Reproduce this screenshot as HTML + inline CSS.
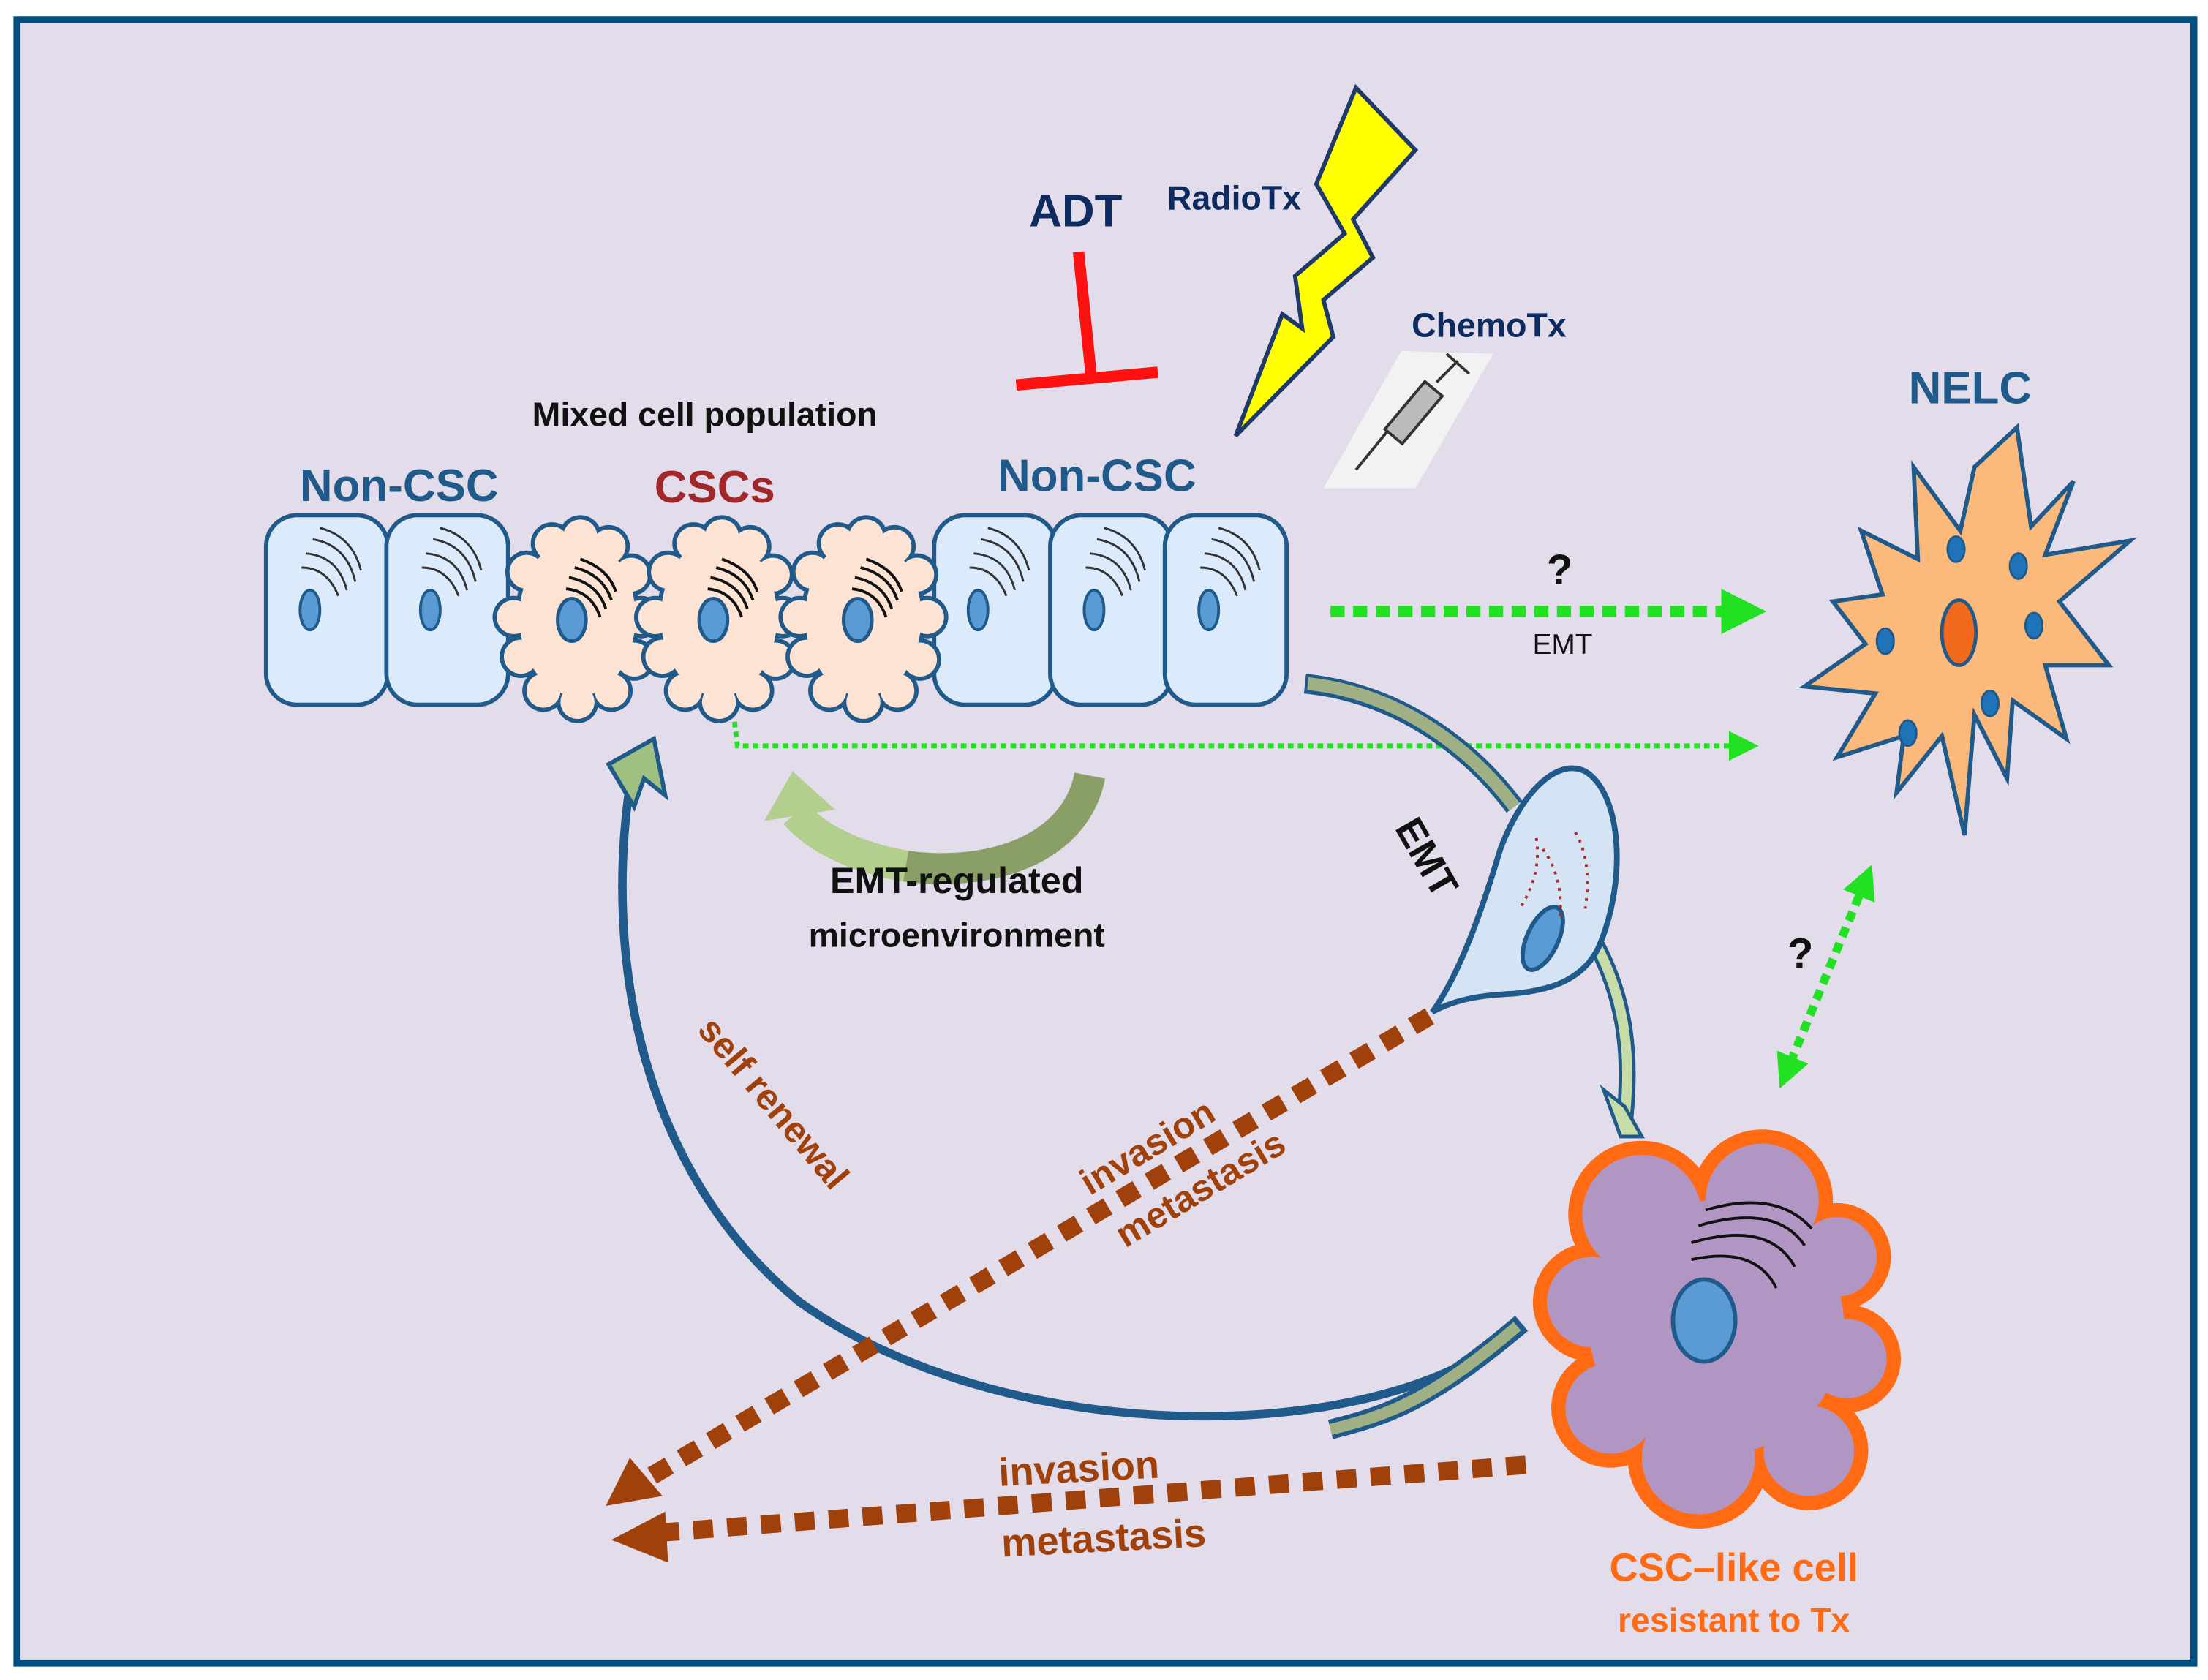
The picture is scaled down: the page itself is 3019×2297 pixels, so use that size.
<!DOCTYPE html>
<html><head><meta charset="utf-8"><style>
html,body{margin:0;padding:0;background:#fff;}
svg{display:block;}
text{font-family:"Liberation Sans",sans-serif;font-weight:bold;}
</style></head><body>
<svg width="3019" height="2297" viewBox="0 0 1560 1187" preserveAspectRatio="none" xmlns="http://www.w3.org/2000/svg">
<defs>
<marker id="gA" markerWidth="4" markerHeight="4" refX="2" refY="2" orient="auto" markerUnits="strokeWidth"><path d="M0,0 L4,2 L0,4 z" fill="#22e022"/></marker>
<marker id="gS" markerWidth="6" markerHeight="6" refX="3" refY="3" orient="auto" markerUnits="strokeWidth"><path d="M0,0 L6,3 L0,6 z" fill="#22e022"/></marker>
<marker id="gB" markerWidth="4" markerHeight="4" refX="2" refY="2" orient="auto-start-reverse" markerUnits="strokeWidth"><path d="M0,0 L4,2 L0,4 z" fill="#22e022"/></marker>
<g id="col">
 <rect x="-43" y="-67" width="86" height="134" rx="22" fill="#dcebfb" stroke="#1f5a8a" stroke-width="3"/>
 <ellipse cx="-12" cy="0" rx="7" ry="14" fill="#5b9bd5" stroke="#1f5a8a" stroke-width="2"/>
 <g fill="none" stroke="#333" stroke-width="1.5">
  <path d="M-18,-30 Q0,-30 8,-10"/><path d="M-15,-40 Q8,-38 14,-14"/><path d="M-10,-50 Q14,-46 20,-20"/><path d="M-5,-58 Q18,-52 24,-28"/>
 </g>
</g>
<g id="csc">
 <g fill="#1f5a8a">
  <ellipse cx="0" cy="0" rx="44" ry="59"/>
  <circle cx="-36" cy="-32" r="15"/><circle cx="-18" cy="-52" r="15"/><circle cx="2" cy="-57" r="15"/><circle cx="22" cy="-50" r="15"/><circle cx="38" cy="-30" r="15"/><circle cx="45" cy="0" r="15"/><circle cx="40" cy="30" r="15"/><circle cx="24" cy="52" r="15"/><circle cx="0" cy="60" r="15"/><circle cx="-24" cy="52" r="15"/><circle cx="-40" cy="28" r="15"/><circle cx="-45" cy="0" r="15"/>
 </g>
 <g fill="#fde3d3">
  <ellipse cx="0" cy="0" rx="41" ry="56"/>
  <circle cx="-36" cy="-32" r="12"/><circle cx="-18" cy="-52" r="12"/><circle cx="2" cy="-57" r="12"/><circle cx="22" cy="-50" r="12"/><circle cx="38" cy="-30" r="12"/><circle cx="45" cy="0" r="12"/><circle cx="40" cy="30" r="12"/><circle cx="24" cy="52" r="12"/><circle cx="0" cy="60" r="12"/><circle cx="-24" cy="52" r="12"/><circle cx="-40" cy="28" r="12"/><circle cx="-45" cy="0" r="12"/>
 </g>
 <ellipse cx="-4" cy="2" rx="10" ry="15" fill="#5b9bd5" stroke="#1f5a8a" stroke-width="2.5"/>
 <g fill="none" stroke="#111" stroke-width="2">
  <path d="M-8,-20 Q10,-18 16,0"/><path d="M-6,-28 Q14,-24 20,-6"/><path d="M-2,-35 Q18,-30 24,-12"/><path d="M2,-41 Q22,-34 27,-18"/>
 </g>
</g>
</defs>
<rect x="0" y="0" width="1560" height="1187" fill="#fff"/>
<rect x="12" y="14" width="1538" height="1161" fill="#e3dceb" stroke="#004f80" stroke-width="5"/>

<!-- cells -->
<use href="#col" x="231" y="431"/><use href="#col" x="316" y="431"/>
<use href="#col" x="703" y="431"/><use href="#col" x="785" y="431"/><use href="#col" x="866" y="431"/>
<use href="#csc" x="408" y="436"/><use href="#csc" x="508" y="436"/><use href="#csc" x="610" y="436"/>

<text x="498" y="301" font-size="24" text-anchor="middle" fill="#111">Mixed cell population</text>
<text x="282" y="354" font-size="32" text-anchor="middle" fill="#1f5a8a">Non-CSC</text>
<text x="505" y="355" font-size="32" text-anchor="middle" fill="#a0282a">CSCs</text>
<text x="775" y="347" font-size="32" text-anchor="middle" fill="#1f5a8a">Non-CSC</text>

<!-- ADT -->
<text x="760" y="160" font-size="32" text-anchor="middle" fill="#0d2b5e">ADT</text>
<line x1="762" y1="178" x2="771" y2="266" stroke="#ff1010" stroke-width="8"/>
<line x1="718" y1="272" x2="818" y2="263" stroke="#ff1010" stroke-width="8"/>
<text x="872" y="148" font-size="24" text-anchor="middle" fill="#0d2b5e">RadioTx</text>
<polygon points="958,62 1000,106 956,155 970,182 935,212 942,238 873,308 906,222 920,232 915,195 950,165 930,130" fill="#ffff00" stroke="#1f3a6a" stroke-width="3" stroke-linejoin="miter"/>
<text x="1052" y="238" font-size="24" text-anchor="middle" fill="#0d2b5e">ChemoTx</text>
<polygon points="990,248 1055,250 1000,345 935,345" fill="#f2f2f2"/>
<g stroke="#333" stroke-width="2" fill="none">
 <line x1="958" y1="332" x2="980" y2="305"/>
 <rect x="-8" y="-20" width="16" height="44" transform="translate(1000,290) rotate(40)" fill="#bbb"/>
 <line x1="1015" y1="270" x2="1030" y2="255"/>
 <line x1="1022" y1="250" x2="1038" y2="264"/>
</g>

<!-- NELC -->
<text x="1392" y="285" font-size="32" text-anchor="middle" fill="#1f5a8a">NELC</text>
<polygon points="1425,302 1435,372 1465,340 1445,392 1505,382 1455,425 1490,470 1445,470 1460,522 1422,495 1418,550 1395,505 1388,590 1372,520 1340,560 1345,520 1298,535 1325,490 1275,485 1318,455 1295,425 1330,420 1315,375 1355,395 1352,330 1385,375 1395,330" fill="#fbb97c" stroke="#1f5a8a" stroke-width="3" stroke-linejoin="miter"/>
<g fill="#1f73b8" stroke="#1f5a8a" stroke-width="1.5">
 <ellipse cx="1382" cy="388" rx="6" ry="9"/><ellipse cx="1426" cy="400" rx="6" ry="9"/><ellipse cx="1332" cy="453" rx="6" ry="9"/><ellipse cx="1437" cy="442" rx="6" ry="9"/><ellipse cx="1406" cy="497" rx="6" ry="9"/><ellipse cx="1348" cy="518" rx="6" ry="9"/>
</g>
<ellipse cx="1384" cy="447" rx="12" ry="23" fill="#f26a1b" stroke="#1f5a8a" stroke-width="2.5"/>

<!-- green arrows -->
<line x1="940" y1="432" x2="1232" y2="432" stroke="#22e022" stroke-width="8" stroke-dasharray="10 6" marker-end="url(#gA)"/>
<text x="1102" y="413" font-size="30" text-anchor="middle" fill="#111">?</text>
<text x="1104" y="462" font-size="20" text-anchor="middle" fill="#111" font-weight="normal" style="font-weight:normal">EMT</text>
<path d="M519,510 L521,527 L1232,527" fill="none" stroke="#22e022" stroke-width="3.5" stroke-dasharray="4 3" marker-end="url(#gS)"/>
<line x1="1318" y1="622" x2="1262" y2="758" stroke="#22e022" stroke-width="6" stroke-dasharray="7 5" marker-start="url(#gB)" marker-end="url(#gB)"/>
<text x="1272" y="684" font-size="30" text-anchor="middle" fill="#111">?</text>

<!-- upper right curved arrow -->
<path d="M922,483 C990,490 1040,530 1070,570" fill="none" stroke="#1f5a8a" stroke-width="14" stroke-linecap="butt"/>
<path d="M924,483 C990,490 1040,530 1070,570" fill="none" stroke="#9fb084" stroke-width="9"/>
<path d="M1128,668 C1150,710 1152,750 1148,790" fill="none" stroke="#1f5a8a" stroke-width="12"/>
<path d="M1128,668 C1150,710 1152,750 1148,790" fill="none" stroke="#c8dca8" stroke-width="7"/>
<polygon points="1133,770 1145,803 1160,803 1148,782" fill="#c8dca8" stroke="#1f5a8a" stroke-width="2.5"/>

<!-- EMT cell -->
<path d="M1012,715 C1030,690 1045,650 1060,600 C1075,560 1100,535 1120,545 C1145,560 1150,620 1130,668 C1118,695 1090,700 1070,702 C1050,703 1030,705 1012,715 z" fill="#d4e4f4" stroke="#1f5a8a" stroke-width="4"/>
<ellipse cx="1090" cy="663" rx="11" ry="24" transform="rotate(25 1090 663)" fill="#5b9bd5" stroke="#1f5a8a" stroke-width="3"/>
<g fill="none" stroke="#b02a2a" stroke-width="2" stroke-dasharray="2 4">
 <path d="M1075,640 Q1090,615 1085,590"/><path d="M1090,600 Q1105,620 1102,650"/><path d="M1113,588 Q1125,608 1120,642"/>
</g>
<text x="0" y="0" font-size="28" fill="#111" transform="translate(985,585) rotate(60)">EMT</text>

<!-- self renewal big arrow -->
<path d="M1075,935 C990,1020 720,1030 565,920 C455,830 425,680 446,548" fill="none" stroke="#1f5a8a" stroke-width="6"/>
<path d="M1075,935 C1010,990 980,1000 940,1010" fill="none" stroke="#1f5a8a" stroke-width="14"/>
<path d="M1072,937 C1010,990 980,1000 940,1010" fill="none" stroke="#9fb084" stroke-width="8"/>
<polygon points="430,540 462,522 470,562 455,550 448,570" fill="#9fc080" stroke="#1f5a8a" stroke-width="3"/>
<text x="0" y="0" font-size="26" fill="#a0400a" transform="translate(492,728) rotate(50)">self renewal</text>

<!-- EMT-regulated microenvironment arrow -->
<path d="M770,548 C760,600 700,620 640,612 C600,605 575,590 562,575" fill="none" stroke="#8a9f68" stroke-width="22"/>
<path d="M640,612 C600,605 575,590 562,575" fill="none" stroke="#b3cf8e" stroke-width="22"/>
<polygon points="540,580 560,545 590,572" fill="#b3cf8e"/>
<text x="676" y="631" font-size="26" text-anchor="middle" fill="#111">EMT-regulated</text>
<text x="676" y="669" font-size="24" text-anchor="middle" fill="#111">microenvironment</text>

<!-- brown dashed arrows -->
<line x1="1010" y1="718" x2="455" y2="1046" stroke="#a0400a" stroke-width="13" stroke-dasharray="14 10"/>
<polygon points="428,1064 445,1030 468,1057" fill="#a0400a"/>
<line x1="1078" y1="1035" x2="465" y2="1083" stroke="#a0400a" stroke-width="13" stroke-dasharray="14 10"/>
<polygon points="432,1088 470,1068 472,1104" fill="#a0400a"/>
<text x="0" y="0" font-size="26" fill="#a0400a" transform="translate(770,845) rotate(-31)">invasion</text>
<text x="0" y="0" font-size="26" fill="#a0400a" transform="translate(795,882) rotate(-31)">metastasis</text>
<text x="0" y="0" font-size="28" fill="#a0400a" transform="translate(706,1050) rotate(-3)">invasion</text>
<text x="0" y="0" font-size="28" fill="#a0400a" transform="translate(708,1100) rotate(-3)">metastasis</text>

<!-- CSC-like cell -->
<g fill="#ff6a13">
 <circle cx="1213" cy="938" r="100"/><circle cx="1160" cy="858" r="52"/><circle cx="1245" cy="848" r="50"/><circle cx="1298" cy="888" r="38"/><circle cx="1305" cy="960" r="38"/><circle cx="1278" cy="1025" r="42"/><circle cx="1200" cy="1030" r="50"/><circle cx="1138" cy="995" r="42"/><circle cx="1125" cy="920" r="42"/>
</g>
<g fill="#b196c4">
 <circle cx="1213" cy="938" r="90"/><circle cx="1160" cy="858" r="42"/><circle cx="1245" cy="848" r="40"/><circle cx="1298" cy="888" r="28"/><circle cx="1305" cy="960" r="28"/><circle cx="1278" cy="1025" r="32"/><circle cx="1200" cy="1030" r="40"/><circle cx="1138" cy="995" r="32"/><circle cx="1125" cy="920" r="32"/>
</g>
<ellipse cx="1204" cy="933" rx="22" ry="29" fill="#5b9bd5" stroke="#1f5a8a" stroke-width="3"/>
<g fill="none" stroke="#111" stroke-width="2">
 <path d="M1195,890 Q1240,880 1255,910"/><path d="M1195,878 Q1250,862 1268,895"/><path d="M1200,866 Q1255,850 1275,880"/><path d="M1205,855 Q1255,840 1280,868"/>
</g>
<text x="1225" y="1117" font-size="28" text-anchor="middle" fill="#ff6a13">CSC–like cell</text>
<text x="1225" y="1153" font-size="24" text-anchor="middle" fill="#ff6a13">resistant to Tx</text>
</svg>
</body></html>
